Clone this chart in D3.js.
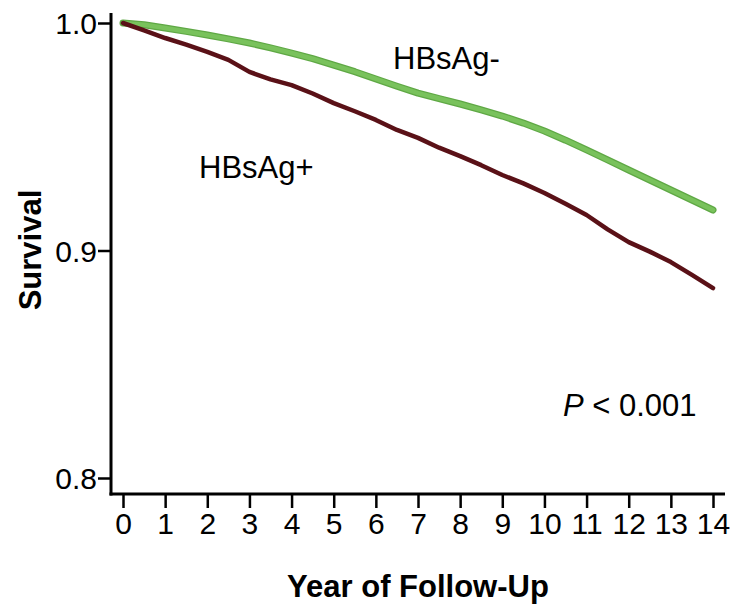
<!DOCTYPE html>
<html><head><meta charset="utf-8">
<script src="https://cdn.jsdelivr.net/npm/d3@7/dist/d3.min.js"></script>
<style>html,body{margin:0;padding:0;background:#fff}svg{display:block}text{font-family:Arial,"Liberation Sans",sans-serif}</style>
</head><body>
<svg id="chart" width="738" height="608"></svg>
<script>
const years = [0,0.5,1,1.5,2,2.5,3,3.5,4,4.5,5,5.5,6,6.5,7,7.5,8,8.5,9,9.5,10,10.5,11,11.5,12,12.5,13,13.5,14];
const hbsagNeg = [1.000,0.9992,0.9978,0.9963,0.9947,0.9930,0.9912,0.9891,0.9868,0.9843,0.9815,0.9786,0.9754,0.9722,0.9692,0.9668,0.9644,0.9618,0.9591,0.9560,0.9525,0.9485,0.9442,0.9398,0.9354,0.9310,0.9266,0.9222,0.9178];
const hbsagPos = [1.000,0.9968,0.9934,0.9905,0.9873,0.9838,0.9785,0.9752,0.9727,0.9690,0.9648,0.9612,0.9574,0.9530,0.9495,0.9452,0.9415,0.9375,0.9332,0.9295,0.9253,0.9205,0.9156,0.9093,0.9037,0.8995,0.8949,0.8893,0.8835];
const xTicks = [0,1,2,3,4,5,6,7,8,9,10,11,12,13,14];
const yTicks = [0.8,0.9,1.0];

const svg = d3.select("#chart");
const x = d3.scaleLinear().domain([0,14]).range([123,713]);
const y = d3.scaleLinear().domain([0.8,1.0]).range([478,23]);

svg.append("line").attr("x1",111).attr("x2",111).attr("y1",13).attr("y2",495.5).attr("stroke","#000").attr("stroke-width",3);
svg.append("line").attr("x1",109.5).attr("x2",725).attr("y1",494).attr("y2",494).attr("stroke","#000").attr("stroke-width",3);

const yAxis = svg.append("g").attr("transform","translate(111,0)")
  .call(d3.axisLeft(y).tickValues(yTicks).tickFormat(d3.format(".1f")).tickSize(13).tickPadding(1));
yAxis.select(".domain").remove();
yAxis.selectAll("line").attr("stroke","#000").attr("stroke-width",2.5);
yAxis.selectAll("text").attr("font-size",30).attr("fill","#000").attr("dy","0.36em");

const xAxis = svg.append("g").attr("transform","translate(0,495)")
  .call(d3.axisBottom(x).tickValues(xTicks).tickFormat(d3.format("d")).tickSize(13).tickPadding(5));
xAxis.select(".domain").remove();
xAxis.selectAll("line").attr("stroke","#000").attr("stroke-width",2.5);
xAxis.selectAll("text").attr("font-size",30).attr("fill","#000");

const line = d3.line().x((d,i)=>x(years[i])).y(d=>y(d)).curve(d3.curveLinear);

svg.append("path").datum(hbsagNeg).attr("d",line).attr("fill","none")
  .attr("stroke","#5fa845").attr("stroke-width",7).attr("stroke-linecap","round").attr("stroke-linejoin","round");
svg.append("path").datum(hbsagNeg).attr("d",line).attr("fill","none")
  .attr("stroke","#79c25c").attr("stroke-width",4.5).attr("stroke-linecap","round").attr("stroke-linejoin","round");
svg.append("path").datum(hbsagPos).attr("d",line).attr("fill","none")
  .attr("stroke","#5a1117").attr("stroke-width",4.5).attr("stroke-linecap","round").attr("stroke-linejoin","round");

svg.append("text").attr("x",393).attr("y",69).attr("font-size",31).text("HBsAg-");
svg.append("text").attr("x",199).attr("y",178).attr("font-size",31).text("HBsAg+");
const p = svg.append("text").attr("x",563).attr("y",416).attr("font-size",31);
p.append("tspan").attr("font-style","italic").text("P");
p.append("tspan").text(" < 0.001");

svg.append("text").attr("transform","translate(41,250) rotate(-90)").attr("text-anchor","middle")
  .attr("font-size",31).attr("font-weight","bold").text("Survival");
svg.append("text").attr("x",418).attr("y",597).attr("text-anchor","middle")
  .attr("font-size",31).attr("font-weight","bold").text("Year of Follow-Up");
</script>
</body></html>
